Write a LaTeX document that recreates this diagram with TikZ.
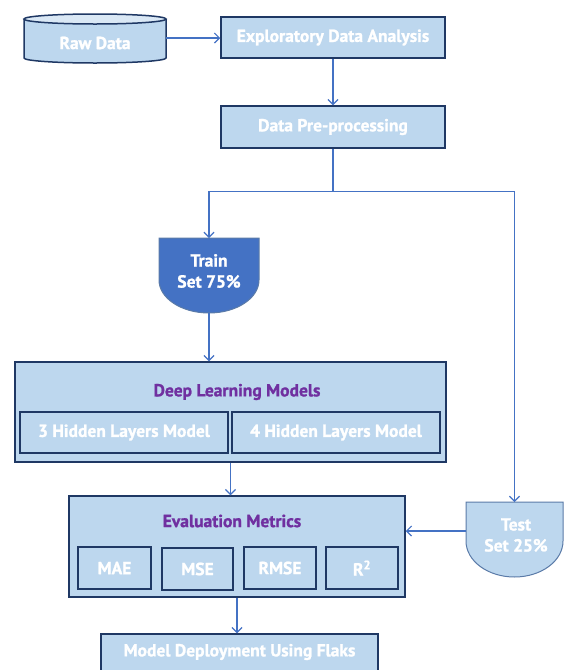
\documentclass[tikz,border=0pt]{standalone}
\usepackage{fontspec}
\setmainfont{PT Sans}[BoldFont={PT Sans Bold}, BoldFeatures={FakeBold=1.2}]
\usetikzlibrary{arrows.meta}
\definecolor{boxfill}{HTML}{BDD7EE}
\definecolor{boxline}{HTML}{1F3864}
\definecolor{arrowc}{HTML}{4472C4}
\definecolor{trainfill}{HTML}{4472C4}
\definecolor{shapeline}{HTML}{5B7BA8}
\definecolor{titlec}{HTML}{7030A0}
\definecolor{topfill}{HTML}{DAE8F5}
\begin{document}
\begin{tikzpicture}[x=1pt,y=-1pt,
  box/.style={draw=boxline, line width=1.5pt, fill=boxfill, text=white,
    font=\bfseries\fontsize{17.5}{19}\selectfont, inner sep=0pt},
  inbox/.style={box, line width=1.4pt},
  titletext/.style={text=titlec, font=\bfseries\fontsize{17.5}{19}\selectfont},
  wtext/.style={text=white, font=\bfseries\fontsize{17.5}{19}\selectfont, align=center},
  line/.style={draw=arrowc, line width=1.2pt},
  conn/.style={line, -{Straight Barb[length=5pt,width=10pt,line width=1.2pt]}}]
\useasboundingbox (0,0) rectangle (564,670);
\clip (0,0) rectangle (564,670);

% Raw Data cylinder
\path[fill=boxfill] (24,19) -- (24,58) arc[start angle=180,end angle=360,x radius=71pt,y radius=5pt] -- (166,19) -- cycle;
\draw[boxline, line width=1.5pt] (24,19) -- (24,58) arc[start angle=180,end angle=360,x radius=71pt,y radius=5pt] -- (166,19);
\draw[boxline, line width=1.5pt, fill=topfill] (95,19) ellipse[x radius=71pt,y radius=5pt];
\node[wtext] (raw) at (95,43) {Raw Data};
\coordinate (rawE) at (166,38);

% boxes
\node[box, minimum width=224pt, minimum height=41pt] (eda) at (333,37.5) {Exploratory Data Analysis};
\node[box, minimum width=224pt, minimum height=42pt] (pre) at (333,127) {Data Pre-processing};

% Train
\draw[draw=shapeline, line width=1pt, fill=trainfill] (159,238) -- (259,238) -- (259,280)
  arc[start angle=0,end angle=-180,x radius=50pt,y radius=33pt] -- cycle;
\node[wtext] (train) at (209,271) {Train\\[2pt]Set 75\%};
\coordinate (trainN) at (209,238);
\coordinate (trainS) at (209,313);

% Test
\draw[draw=shapeline, line width=1pt, fill=boxfill] (466,502) -- (563,502) -- (563,541)
  arc[start angle=0,end angle=-180,x radius=48.5pt,y radius=36pt] -- cycle;
\node[wtext] (test) at (516,535) {Test\\[2pt]Set 25\%};
\coordinate (testN) at (514.5,502);
\coordinate (testW) at (466,531);

% Deep learning models
\node[box, minimum width=431pt, minimum height=100pt] (dl) at (230.5,412) {};
\node[titletext] (dlt) at (237,392) {Deep Learning Models};
\node[inbox, minimum width=208pt, minimum height=41pt] (h3) at (124,432.5) {3 Hidden Layers Model};
\node[inbox, minimum width=208pt, minimum height=41pt] (h4) at (336,432.5) {4 Hidden Layers Model};

% Evaluation metrics
\node[box, minimum width=336pt, minimum height=101pt] (ev) at (237,546.5) {};
\node[titletext] (evt) at (232,521) {Evaluation Metrics};
\node[inbox, minimum width=73pt, minimum height=42pt] (mae) at (114.5,568) {MAE};
\node[inbox, minimum width=71pt, minimum height=42pt] (mse) at (197.5,569) {MSE};
\node[inbox, minimum width=72pt, minimum height=42pt] (rmse) at (280,568) {RMSE};
\node[inbox, minimum width=72pt, minimum height=42pt] (r2) at (362,568) {R\textsuperscript{2}};

% Deployment
\node[box, minimum width=277pt, minimum height=44pt] (dep) at (239.5,656) {};
\node[wtext] (dept) at (239.5,652) {Model Deployment Using Flaks};

% connectors
\draw[conn] (rawE) -- (rawE -| eda.west);
\draw[conn] (eda.south) -- (pre.north);
\draw[line] (pre.south) -- ++(0,43) coordinate (split);
\draw[conn] (split) -| (trainN);
\draw[conn] (split) -| (testN);
\draw[conn] (trainS) -- (trainS |- dl.north);
\draw[conn] (dl.south) -- (dl.south |- ev.north);
\draw[conn] (testW) -- (testW -| ev.east);
\draw[conn] (ev.south) -- (ev.south |- dep.north);
\end{tikzpicture}
\end{document}
